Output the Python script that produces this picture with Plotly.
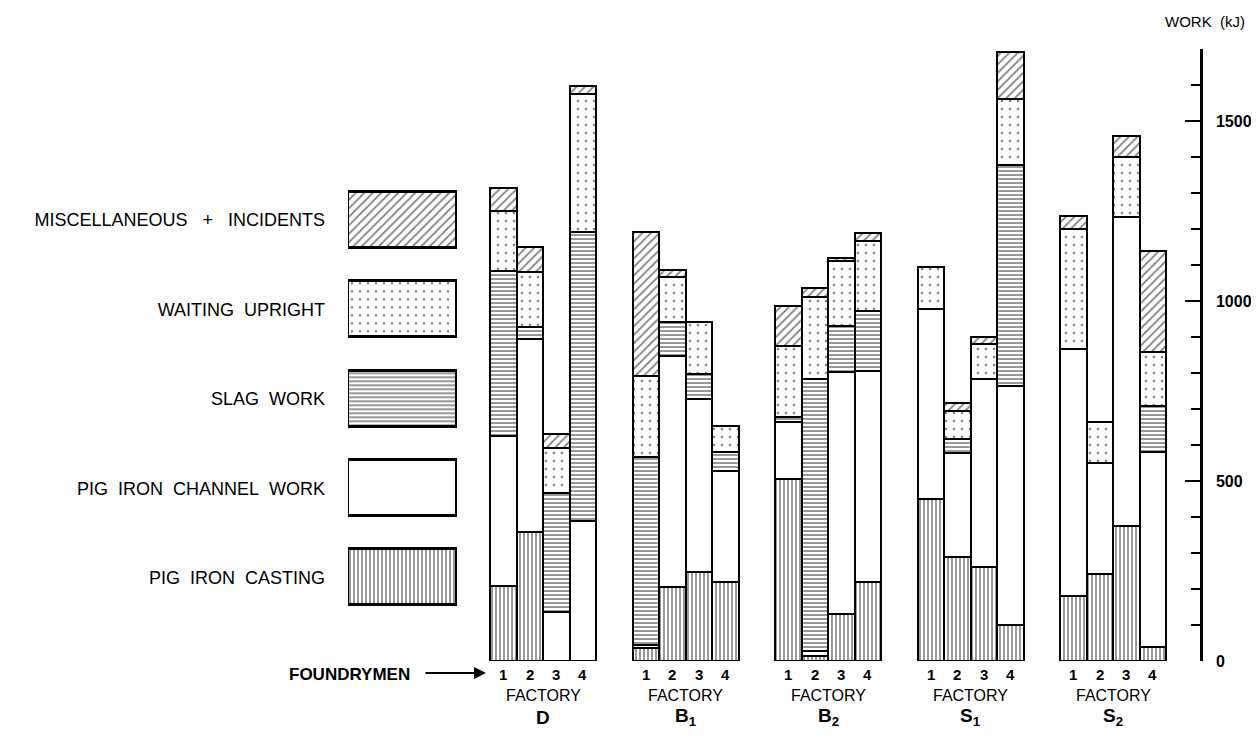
import plotly.graph_objects as go

# ---------------- data (kJ) ----------------
factories = ["D", "B<sub>1</sub>", "B<sub>2</sub>", "S<sub>1</sub>", "S<sub>2</sub>"]
foundrymen = ["1", "2", "3", "4"]

# order inside each list: D1..D4, B1-1..4, B2-1..4, S1-1..4, S2-1..4
pig_iron_casting = [209, 357, 0, 0, 35, 205, 246, 219, 506, 15, 131, 219,
                    450, 288, 260, 100, 181, 242, 376, 38]
pig_iron_channel = [417, 537, 137, 390, 10, 643, 482, 310, 157, 14, 671, 587,
                    528, 289, 523, 665, 686, 309, 856, 542]
slag_work = [456, 33, 331, 801, 521, 95, 69, 51, 15, 754, 129, 167,
             0, 40, 0, 613, 0, 0, 0, 129]
waiting_upright = [169, 153, 125, 385, 225, 123, 146, 74, 196, 227, 179, 193,
                   117, 78, 98, 183, 333, 112, 167, 148]
misc_incidents = [63, 71, 38, 22, 400, 20, 0, 0, 113, 26, 9, 22,
                  0, 22, 18, 132, 37, 0, 58, 281]

series_names = ["PIG\u00a0 IRON\u00a0 CASTING",
                "PIG\u00a0 IRON\u00a0 CHANNEL\u00a0 WORK",
                "SLAG\u00a0 WORK",
                "WAITING\u00a0 UPRIGHT",
                "MISCELLANEOUS\u00a0\u00a0 +\u00a0\u00a0 INCIDENTS"]
y_ticks_major = [0, 500, 1000, 1500]

# ---------------- styles ----------------
patterns = [
    dict(shape="|", size=4, solidity=0.4, fgcolor="black", bgcolor="white"),
    dict(shape="", fgcolor="black", bgcolor="white"),
    dict(shape="-", size=4, solidity=0.4, fgcolor="black", bgcolor="white"),
    dict(shape=".", size=8, solidity=0.08, fgcolor="black", bgcolor="white"),
    dict(shape="/", size=6, solidity=0.3, fgcolor="black", bgcolor="white"),
]
series_values = [pig_iron_casting, pig_iron_channel, slag_work,
                 waiting_upright, misc_incidents]

OFF = 8                    # default page margin of the browser
W, H = 1259 - 2 * OFF, 737 - 2 * OFF


def px(v):
    """reference-page pixel -> figure pixel"""
    return v - OFF


PLOT_RIGHT = px(1200)      # x of the right (y) axis
MAIN_LEFT = px(470)        # x where the main x-domain starts
TOP, BOTTOM = px(49), px(661)   # y of 1700 and 0
BAR_PX = 26.5              # bar width in px
GROUP_PX = 142.5           # distance between group starts
FIRST_BAR_PX = px(490)     # left edge of first bar

step = GROUP_PX / BAR_PX
x_pos = [g * step + i for g in range(len(factories)) for i in range(len(foundrymen))]
x_min = -0.5 - (FIRST_BAR_PX - MAIN_LEFT) / BAR_PX
x_max = x_min + (PLOT_RIGHT - MAIN_LEFT) / BAR_PX

fig = go.Figure()

for name, vals, pat in zip(series_names, series_values, patterns):
    fig.add_trace(go.Bar(
        x=x_pos, y=vals, width=1.0, name=name, showlegend=False,
        marker=dict(color="white", pattern=pat,
                    line=dict(color="black", width=2.5)),
        xaxis="x", yaxis="y", hoverinfo="skip",
    ))

# legend boxes drawn as a small horizontal bar subplot
for idx, (name, pat) in enumerate(zip(series_names, patterns)):
    fig.add_trace(go.Bar(
        x=[1], y=[idx], orientation="h", width=0.626, showlegend=False,
        marker=dict(color="white", pattern=pat,
                    line=dict(color="black", width=3)),
        xaxis="x2", yaxis="y2", hoverinfo="skip",
    ))

plot_w = PLOT_RIGHT
plot_h = BOTTOM - TOP

# legend axis geometry
leg_top_center, leg_bot_center = px(220), px(577.7)
leg_sp = (leg_bot_center - leg_top_center) / (len(series_names) - 1)
leg_top = leg_top_center - leg_sp / 2
leg_bot = leg_bot_center + leg_sp / 2

font_family = "Liberation Sans, Arial, sans-serif"

fig.update_layout(
    width=W, height=H,
    margin=dict(l=0, r=W - PLOT_RIGHT, t=TOP, b=H - BOTTOM, pad=0),
    paper_bgcolor="white", plot_bgcolor="white",
    barmode="stack", bargap=0,
    font=dict(family=font_family, color="black"),
    xaxis=dict(domain=[MAIN_LEFT / plot_w, 1.0], range=[x_min, x_max],
               visible=False, fixedrange=True),
    yaxis=dict(domain=[0, 1], range=[0, 1700], side="right", anchor="x",
               showline=True, linecolor="black", linewidth=2.5,
               showgrid=False, zeroline=False,
               ticks="inside", ticklen=15, tickwidth=2, tickcolor="black",
               tickvals=y_ticks_major, ticktext=[str(v) for v in y_ticks_major],
               ticklabelstandoff=10,
               tickfont=dict(family=font_family, size=16, weight="bold"),
               minor=dict(dtick=100, tick0=0, ticks="inside", ticklen=9,
                          tickwidth=2, tickcolor="black", showgrid=False)),
    xaxis2=dict(domain=[px(348) / plot_w, px(457) / plot_w], range=[0, 1],
                anchor="y2", visible=False, fixedrange=True),
    yaxis2=dict(domain=[(BOTTOM - leg_bot) / plot_h, (BOTTOM - leg_top) / plot_h],
                range=[-0.5, len(series_names) - 0.5], anchor="x2",
                tickvals=list(range(len(series_names))), ticktext=series_names,
                showline=False, showgrid=False, zeroline=False, ticks="",
                ticklabelstandoff=22,
                tickfont=dict(family=font_family, size=18)),
)

ann = []
# foundryman numbers under each bar
for k, x in enumerate(x_pos):
    ann.append(dict(x=x, xref="x", y=0, yref="paper", yanchor="middle",
                    yshift=-13, text=foundrymen[k % len(foundrymen)],
                    showarrow=False,
                    font=dict(size=15, weight="bold", family=font_family)))
# FACTORY + factory letters
for g, fac in enumerate(factories):
    cx = g * step + (len(foundrymen) - 1) / 2
    ann.append(dict(x=cx, xref="x", y=0, yref="paper", yanchor="middle",
                    yshift=-34, text="FACTORY", showarrow=False,
                    font=dict(size=16, family=font_family)))
    ann.append(dict(x=cx, xref="x", y=0, yref="paper", yanchor="middle",
                    yshift=-56, text=fac, showarrow=False,
                    font=dict(size=19, weight="bold", family=font_family)))
# FOUNDRYMEN with arrow
ann.append(dict(x=px(412) / plot_w, xref="paper", y=0, yref="paper",
                xanchor="right", yanchor="middle", yshift=-13,
                text="FOUNDRYMEN", showarrow=False,
                font=dict(size=17, weight="bold", family=font_family)))
ann.append(dict(x=px(486) / plot_w, xref="paper", y=-(673 - 661) / plot_h,
                yref="paper", ax=-62, ay=0, text="", showarrow=True,
                arrowhead=2, arrowsize=1.2, arrowwidth=2, arrowcolor="black"))
# axis title
ann.append(dict(x=px(1205) / plot_w, xref="paper", y=(BOTTOM - px(22)) / plot_h,
                yref="paper", xanchor="center", yanchor="middle",
                text="WORK\u00a0 (kJ)", showarrow=False,
                font=dict(size=15, family=font_family)))
fig.update_layout(annotations=ann)

fig.write_html("out.html")
